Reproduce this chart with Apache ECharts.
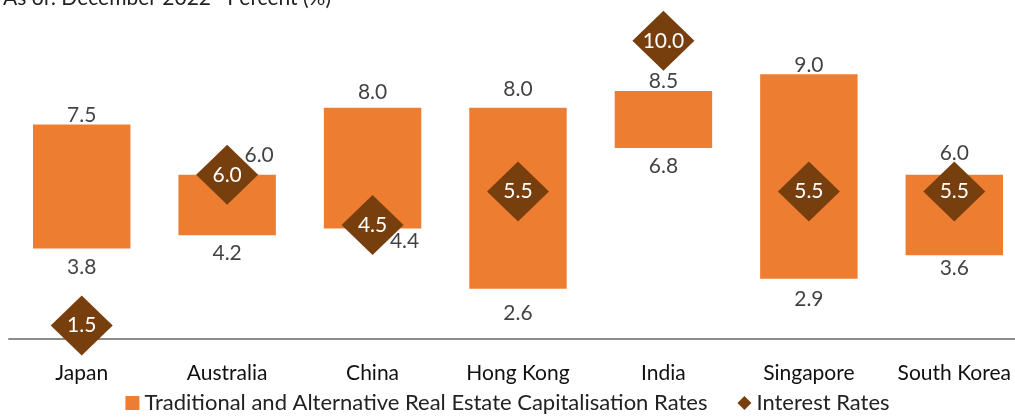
<!DOCTYPE html>
<html>
<head>
<meta charset="utf-8">
<script src="https://cdn.jsdelivr.net/npm/echarts@6/dist/echarts.min.js"></script>
<style>
  html, body { margin: 0; padding: 0; background: #fff; }
  #main { width: 1015px; height: 420px; }
</style>
</head>
<body>
<div id="main"></div>
<script>
var markets = ['Japan', 'Australia', 'China', 'Hong Kong', 'India', 'Singapore', 'South Korea'];
var capLow = [3.8, 4.2, 4.4, 2.6, 6.8, 2.9, 3.6];
var capHigh = [7.5, 6.0, 8.0, 8.0, 8.5, 9.0, 6.0];
var interestRates = [1.5, 6.0, 4.5, 5.5, 10.0, 5.5, 5.5];

var FONT = 'Lato';
var barName = 'Traditional and Alternative Real Estate Capitalisation Rates';
var dotName = 'Interest Rates';

// per-label nudges (px), to keep labels clear of the diamonds
var highOffset = [[0, 0], [32, -10], [0, -6], [0, -9], [0, 0], [0, 0], [0, -12]];
var lowOffset = [[0, 0], [0, 0], [32, -6], [0, 6], [0, 0], [0, 2], [0, -6]];

var rangeData = [];
var highPts = [];
var lowPts = [];
for (var i = 0; i < markets.length; i++) {
    rangeData.push(+(capHigh[i] - capLow[i]).toFixed(2));
    highPts.push({ value: [i, capHigh[i]], label: { offset: highOffset[i] } });
    lowPts.push({ value: [i, capLow[i]], label: { offset: lowOffset[i] } });
}

var myChart = echarts.init(document.getElementById('main'));

var option = {
    animation: false,
    title: {
        text: 'As of: December 2022 \u00b7 Percent (%)',
        left: -2,
        top: -17,
        textStyle: { fontFamily: FONT, fontSize: 21, fontWeight: 'normal', color: '#222' }
    },
    legend: {
        bottom: 1,
        left: 'center',
        itemGap: 30,
        itemWidth: 14,
        itemHeight: 14,
        data: [
            { name: barName, icon: 'rect' },
            { name: dotName, icon: 'diamond' }
        ],
        textStyle: { fontFamily: FONT, fontSize: 22, color: '#222' }
    },
    grid: { left: 9, width: 1018, top: 4, bottom: 81, outerBoundsMode: 'none' },
    xAxis: {
        type: 'category',
        data: markets,
        axisTick: { show: false },
        axisLine: { lineStyle: { color: '#8c8c8c', width: 2 } },
        axisLabel: { interval: 0, fontFamily: FONT, fontSize: 21, color: '#111', margin: 24 }
    },
    yAxis: {
        type: 'value',
        min: 1.1,
        max: 11.1,
        show: false,
        splitLine: { show: false }
    },
    series: [
        {
            name: 'base',
            type: 'bar',
            stack: 'r',
            data: capLow,
            barWidth: '67%',
            itemStyle: { color: 'transparent' },
            silent: true
        },
        {
            name: barName,
            type: 'bar',
            stack: 'r',
            data: rangeData,
            itemStyle: { color: '#ED7D31' }
        },
        {
            name: 'high',
            type: 'scatter',
            data: highPts,
            symbolSize: 0,
            label: {
                show: true, position: 'top', distance: -1,
                formatter: function (p) { return p.value[1].toFixed(1); },
                fontFamily: FONT, fontSize: 21, color: '#111'
            },
            z: 5
        },
        {
            name: 'low',
            type: 'scatter',
            data: lowPts,
            symbolSize: 0,
            label: {
                show: true, position: 'bottom', distance: 8,
                formatter: function (p) { return p.value[1].toFixed(1); },
                fontFamily: FONT, fontSize: 21, color: '#111'
            },
            z: 5
        },
        {
            name: dotName,
            type: 'scatter',
            data: interestRates,
            symbol: 'diamond',
            symbolSize: [62, 60],
            itemStyle: { color: '#783F0E', opacity: 1 },
            label: {
                show: true, position: 'inside',
                formatter: function (p) { return p.value.toFixed(1); },
                fontFamily: FONT, fontSize: 21, color: '#fff'
            },
            z: 4
        }
    ]
};

myChart.setOption(option);
</script>
</body>
</html>
